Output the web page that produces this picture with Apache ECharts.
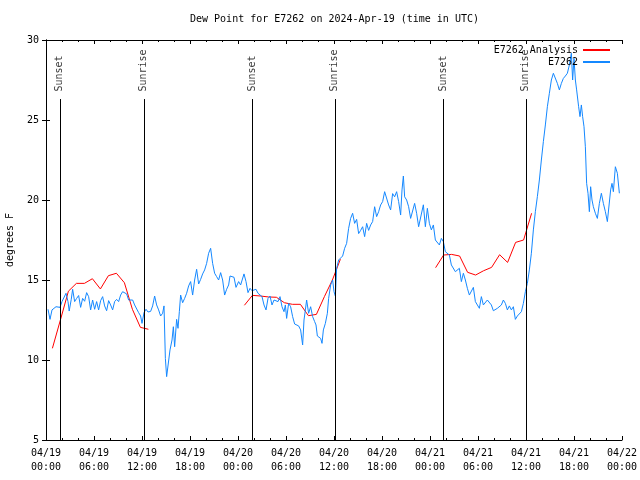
<!DOCTYPE html>
<html>
<head>
<meta charset="utf-8">
<script src="https://cdn.jsdelivr.net/npm/echarts@6/dist/echarts.min.js"></script>
<style>html,body{margin:0;padding:0;background:#fff}#c{width:640px;height:480px}</style>
</head>
<body>
<div id="c"></div>
<script>
// Hours after 2024-04-19 00:00 UTC
const tickLabels = ['04/19\n00:00','04/19\n06:00','04/19\n12:00','04/19\n18:00','04/20\n00:00','04/20\n06:00','04/20\n12:00','04/20\n18:00','04/21\n00:00','04/21\n06:00','04/21\n12:00','04/21\n18:00','04/22\n00:00'];
const sunsetHours = [1.8, 25.83, 49.7];
const sunriseHours = [12.29, 36.17, 60.0];

// E7262 Analysis: three hourly runs, start hour of each run
const analysisStart = [0.8, 24.8, 48.7];
const analysisRun1 = [10.73, 12.5, 14.3, 14.79, 14.79, 15.08, 14.44, 15.27, 15.42, 14.83, 13.17, 12.04, 11.92];
const analysisRun2 = [13.42, 14.04, 14.0, 13.94, 13.92, 13.58, 13.48, 13.48, 12.77, 12.85, 13.96, 15.0, 16.3];
const analysisRun3 = [15.77, 16.56, 16.6, 16.5, 15.48, 15.31, 15.58, 15.79, 16.58, 16.1, 17.35, 17.5, 19.17];

// E7262 observations
const obsHours = [0.25,0.5,0.75,1.25,1.75,2.0,2.25,2.5,2.75,2.9,3.16,3.33,3.58,3.83,4.08,4.33,4.58,4.83,5.08,5.33,5.58,5.83,6.08,6.33,6.58,6.83,7.08,7.33,7.58,7.83,8.08,8.33,8.58,8.83,9.08,9.33,9.58,9.83,10.08,10.33,10.58,10.83,11.08,11.33,11.58,11.83,12.0,12.25,12.5,12.75,13.08,13.33,13.58,13.83,14.08,14.33,14.58,14.75,14.92,15.08,15.33,15.5,15.75,15.92,16.08,16.33,16.5,16.67,16.83,17.08,17.33,17.58,17.83,18.08,18.33,18.58,18.83,19.08,19.33,19.58,19.83,20.08,20.33,20.58,20.83,21.08,21.33,21.58,21.83,22.08,22.33,22.58,22.83,
23.0,23.5,23.75,24.08,24.33,24.75,25.0,25.25,25.5,25.75,26.25,26.5,26.75,27.0,27.25,27.5,27.75,28.0,28.25,28.5,28.75,29.0,29.25,29.5,29.75,29.92,30.08,30.33,30.58,30.83,31.08,31.33,31.58,31.83,32.08,32.25,32.42,32.58,32.83,33.08,33.33,33.58,33.75,33.92,34.08,34.33,34.5,34.67,34.92,35.17,35.33,35.58,35.83,36.0,36.17,36.33,36.58,36.83,37.08,37.33,37.58,37.83,38.08,38.33,38.58,38.83,39.08,39.33,39.58,39.83,40.08,40.33,40.58,40.83,41.08,41.33,41.58,41.83,42.08,42.33,42.58,42.83,43.08,43.33,43.58,43.83,44.08,44.33,44.5,44.67,44.83,45.08,45.33,45.58,45.83,46.08,46.33,46.58,
46.75,47.17,47.42,47.67,47.92,48.17,48.42,48.67,48.92,49.17,49.42,49.67,49.92,50.17,50.42,50.67,50.92,51.17,51.42,51.67,51.92,52.17,52.42,52.67,52.92,53.17,53.42,53.67,53.92,54.17,54.42,54.67,54.92,55.17,55.42,55.67,55.92,56.17,56.42,56.67,56.92,57.17,57.42,57.67,57.92,58.17,58.42,58.67,58.92,59.17,59.42,59.67,59.92,60.17,60.42,60.67,60.92,61.17,61.42,61.67,61.92,62.17,62.42,62.67,62.92,63.17,63.42,63.67,63.92,64.17,64.42,64.67,64.92,65.17,65.42,65.67,65.83,66.0,66.17,66.33,66.58,66.75,66.92,67.08,67.25,67.42,67.58,67.75,67.92,68.08,68.25,68.42,68.67,68.92,69.17,69.42,69.67,69.92,70.17,70.42,70.58,70.75,70.92,71.17,71.42,71.67];
const obsValues = [13.17,12.54,13.13,13.33,13.29,13.65,13.54,14.17,13.65,13.06,13.8,14.42,13.65,13.85,14.03,13.29,13.85,13.67,14.21,13.96,13.13,13.75,13.17,13.65,13.13,13.71,13.96,13.38,13.08,13.71,13.44,13.13,13.65,13.79,13.65,14.06,14.27,14.38,14.13,13.75,13.79,13.75,13.44,13.33,12.96,12.75,12.29,12.96,13.17,13.0,13.04,13.38,14.0,13.44,13.13,12.75,12.92,13.38,10.1,8.96,8.96,10.63,11.25,12.08,10.83,12.54,11.98,13.04,14.06,13.58,13.85,14.17,14.63,14.9,14.06,15.0,15.67,14.75,15.04,15.38,15.63,16.04,16.67,16.98,16.04,15.42,15.21,15.0,15.46,15.0,14.06,14.42,14.69,
15.25,15.17,14.54,14.9,14.69,15.38,14.9,14.21,14.48,14.33,14.42,14.17,14.06,13.96,13.44,13.13,13.85,14.0,13.44,13.75,13.79,13.65,13.96,13.33,13.02,13.44,12.6,13.54,13.33,12.71,12.25,12.19,12.13,11.88,10.94,12.5,13.13,13.75,12.92,13.33,12.71,12.4,12.19,11.5,11.46,11.35,11.04,11.88,12.29,12.92,13.85,14.69,15.0,14.27,14.0,15.73,16.25,16.35,16.5,16.98,17.29,18.23,18.85,19.17,18.54,18.79,17.9,18.1,18.33,17.71,18.54,18.1,18.44,18.65,19.58,18.96,19.27,19.69,19.9,20.52,20.63,19.69,19.38,20.4,20.2,20.52,19.9,19.06,20.63,21.5,20.2,20.0,19.58,18.85,18.85,19.79,19.17,18.33,
18.33,19.7,18.33,19.48,18.54,18.13,18.44,17.5,17.4,17.19,17.6,17.4,16.77,16.67,16.56,15.94,15.83,15.52,15.63,15.73,14.9,15.42,15.0,14.48,14.06,14.13,14.54,13.65,13.54,13.23,13.96,13.44,13.33,13.75,13.71,13.44,13.08,12.96,13.23,13.13,13.44,13.75,13.54,13.13,13.38,13.13,13.33,12.54,12.75,12.75,13.02,13.54,14.27,14.79,15.63,16.67,18.13,19.27,20.21,21.25,22.5,23.65,24.69,25.83,26.67,27.5,27.92,27.96,27.29,26.88,27.29,27.6,27.75,27.92,28.44,29.17,27.5,28.85,27.5,26.88,25.83,25.21,25.94,25.21,24.58,23.33,21.04,20.42,19.27,20.83,20.0,19.58,19.17,18.85,19.79,20.42,19.79,19.27,18.65,18.58,20.63,21.04,20.52,22.08,21.67,20.42];

const FONT = 'DejaVu Sans Mono';
const BLUE = '#1488ff';
const RED = '#ff0000';

const analysisData = [];
[analysisRun1, analysisRun2, analysisRun3].forEach((run, r) => {
  run.forEach((v, i) => analysisData.push([analysisStart[r] + i, v]));
  analysisData.push([analysisStart[r] + run.length - 0.5, null]);
});
const obsData = obsHours.map((h, i) => [h, obsValues[i]]);

const sunEvents = [];
sunsetHours.forEach(h => sunEvents.push({ name: 'Sunset', value: [h, 26.75] }));
sunriseHours.forEach(h => sunEvents.push({ name: 'Sunrise', value: [h, 26.75] }));
const sunLines = sunEvents.map(e => [{ coord: [e.value[0], 5] }, { coord: [e.value[0], 26.31] }]);

const chart = echarts.init(document.getElementById('c'), null, { renderer: 'canvas' });
const baseX = {
  type: 'value', min: 0, max: 72, interval: 6,
  axisLine: { lineStyle: { color: '#000', width: 1 } },
  axisTick: { inside: true, length: 4, lineStyle: { color: '#000' } },
  minorTick: { show: true, splitNumber: 3, length: 2, lineStyle: { color: '#000' } },
  splitLine: { show: false }
};
const baseY = {
  type: 'value', min: 5, max: 30, interval: 5,
  axisLine: { show: true, lineStyle: { color: '#000', width: 1 } },
  axisTick: { show: true, inside: true, length: 4, lineStyle: { color: '#000' } },
  splitLine: { show: false }
};
chart.setOption({
  animation: false,
  backgroundColor: '#fff',
  title: {
    text: 'Dew Point for E7262 on 2024-Apr-19 (time in UTC)',
    left: 190, top: 14, padding: 0,
    textStyle: { fontFamily: FONT, fontSize: 10, fontWeight: 'normal', color: '#000' }
  },
  legend: {
    orient: 'vertical', right: 30, top: 44, align: 'right', padding: 0,
    itemWidth: 27, itemHeight: 2, itemGap: 0,
    textStyle: { fontFamily: FONT, fontSize: 10, color: '#000', lineHeight: 12 },
    data: [{ name: 'E7262 Analysis', icon: 'rect' }, { name: 'E7262', icon: 'rect' }]
  },
  grid: { left: 46, right: 18, top: 40, bottom: 40, outerBoundsMode: 'none', containLabel: false },
  xAxis: [
    Object.assign({}, baseX, {
      position: 'bottom',
      axisLabel: { color: '#000', fontFamily: FONT, fontSize: 10, lineHeight: 14, margin: 6,
        formatter: v => tickLabels[Math.round(v / 6)] }
    }),
    Object.assign({}, baseX, { position: 'top', axisLabel: { show: false } })
  ],
  yAxis: [
    Object.assign({}, baseY, {
      position: 'left',
      name: 'degrees F', nameLocation: 'middle', nameGap: 31, nameRotate: 90,
      nameTextStyle: { fontFamily: FONT, fontSize: 10, color: '#000' },
      axisLabel: { color: '#000', fontFamily: FONT, fontSize: 10, margin: 7 }
    }),
    Object.assign({}, baseY, { position: 'right', axisLabel: { show: false } })
  ],
  series: [
    {
      name: 'sun', type: 'scatter', data: sunEvents, symbolSize: 1,
      itemStyle: { color: 'rgba(0,0,0,0)' }, silent: true,
      label: { show: true, formatter: p => p.name, rotate: 90, position: [0, 0],
        align: 'left', verticalAlign: 'middle', fontFamily: FONT, fontSize: 10, color: '#000' },
      markLine: { silent: true, symbol: 'none', label: { show: false },
        lineStyle: { color: '#000', width: 1, type: 'solid' }, data: sunLines }
    },
    {
      name: 'E7262 Analysis', type: 'line', data: analysisData, showSymbol: false, symbol: 'none',
      connectNulls: false, lineStyle: { color: RED, width: 1 }, itemStyle: { color: RED }
    },
    {
      name: 'E7262', type: 'line', data: obsData, showSymbol: false, symbol: 'none',
      lineStyle: { color: BLUE, width: 1 }, itemStyle: { color: BLUE }
    }
  ]
});
</script>
</body>
</html>
